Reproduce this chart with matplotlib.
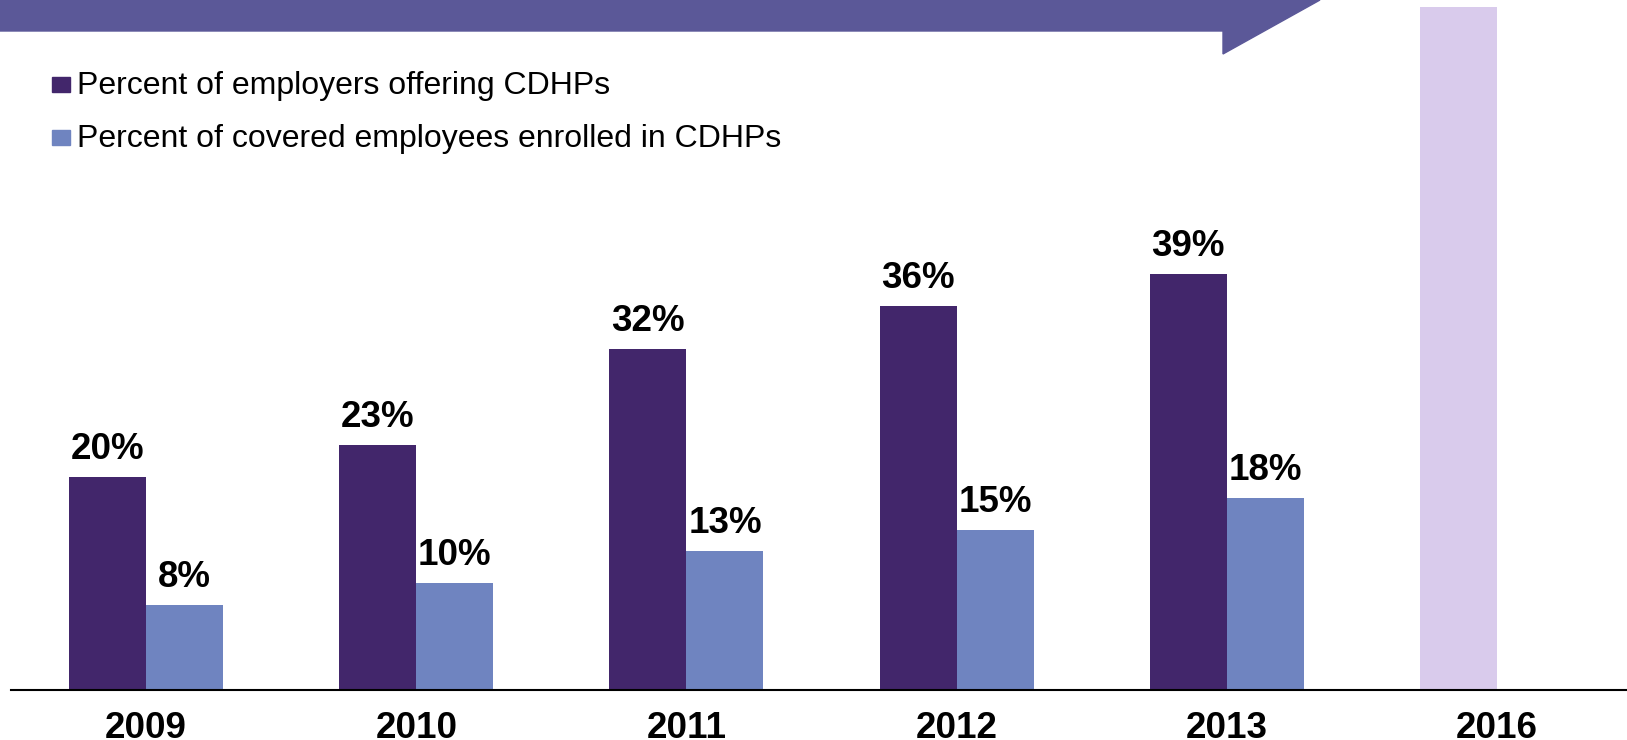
import matplotlib
matplotlib.use("Agg")
import matplotlib.pyplot as plt
from matplotlib.patches import Polygon, Rectangle

plt.rcParams['font.family'] = ['Liberation Sans', 'DejaVu Sans']

# CDHP data
years = ['2009', '2010', '2011', '2012', '2013']
employers_offering = [20, 23, 32, 36, 39]
employees_enrolled = [8, 10, 13, 15, 18]
series_names = ['Percent of employers offering CDHPs',
                'Percent of covered employees enrolled in CDHPs']
proj_year = '2016'
proj_value = 64

dark = '#42266B'
light = '#6F84C0'
lavender = '#D9CBEC'
banner_col = '#5B5898'

W, H = 1627, 740
fig = plt.figure(figsize=(W / 100, H / 100), dpi=100)
ax = fig.add_axes([11 / W, 50 / H, (W - 11) / W, 690 / H])

bw = 0.285
xs = list(range(len(years)))
b1 = ax.bar([x - bw / 2 for x in xs], employers_offering, bw, color=dark)
b2 = ax.bar([x + bw / 2 for x in xs], employees_enrolled, bw, color=light)
xp = len(years)
ax.bar([xp - bw / 2], [proj_value], bw, color=lavender)

# value labels above the bars
for bars, vals in ((b1, employers_offering), (b2, employees_enrolled)):
    for r, v in zip(bars, vals):
        ax.annotate(f'{v}%', (r.get_x() + r.get_width() / 2, v),
                    xytext=(0, 13), textcoords='offset points',
                    ha='center', va='baseline', fontsize=26.5,
                    fontweight='bold')

# year labels under the axis line
for x, lab in zip(xs + [xp], years + [proj_year]):
    ax.annotate(lab, (x, 0), xycoords=('data', 'axes fraction'),
                xytext=(0, -34.3), textcoords='offset points',
                ha='center', va='baseline', fontsize=26.5, fontweight='bold')

ax.set_xlim(-0.5, 5.481)
ax.set_ylim(0, 64.67)
for s in ('top', 'left', 'right'):
    ax.spines[s].set_visible(False)
ax.spines['bottom'].set_linewidth(1.5)
ax.set_xticks([])
ax.set_yticks([])
ax.patch.set_alpha(0)

# header banner with arrow notch
pts = [(0, 0), (1320, 0), (1223, 54), (1223, 31), (0, 31)]
fig.patches.append(Polygon([(x / W, 1 - y / H) for x, y in pts], closed=True,
                           transform=fig.transFigure, color=banner_col,
                           zorder=5))

# legend
for i, (name, col) in enumerate(zip(series_names, [dark, light])):
    base = 93.8 + i * 52.7
    fig.patches.append(Rectangle((52 / W, 1 - (base - 1.5) / H), 18 / W,
                                 15.5 / H, transform=fig.transFigure,
                                 color=col))
    fig.text(77 / W, 1 - base / H, name, fontsize=23,
             va='baseline', ha='left')

fig.savefig('out.png', dpi=100)
